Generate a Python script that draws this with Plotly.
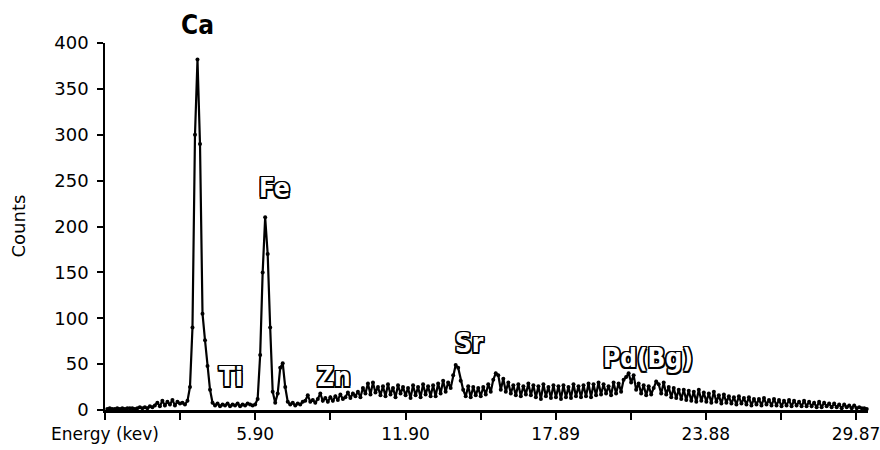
import numpy as np
import plotly.graph_objects as go

# Spectrum: channel energies (keV) start/step and counts
energy_start = 0.0
energy_step = 0.1
counts = [
    1, 2, 1, 1, 2, 1, 2, 1, 2, 2,          # 0.0 - 0.9
    2, 1, 2, 3, 2, 3, 2, 4, 3, 5,          # 1.0 - 1.9
    8, 4, 10, 5, 9, 6, 11, 5, 9, 7,        # 2.0 - 2.9
    8, 6, 10, 25, 90, 300, 382, 290, 105, 76,   # 3.0 - 3.9
    48, 22, 8, 5, 7, 4, 6, 5, 7, 4,        # 4.0 - 4.9
    6, 5, 7, 4, 6, 5, 7, 6, 5, 6,          # 5.0 - 5.9
    12, 60, 150, 210, 170, 90, 20, 8, 18, 46,   # 6.0 - 6.9
    51, 25, 9, 6, 8, 5, 7, 6, 9, 10,       # 7.0 - 7.9
    16, 9, 11, 8, 12, 18, 10, 13, 9, 14,   # 8.0 - 8.9
    10, 15, 11, 17, 12, 14, 19, 13, 18, 15,  # 9.0 - 9.9
    20, 14, 24, 18, 29, 17, 30, 19, 25, 16,  # 10.0 - 10.9
    26, 15, 28, 17, 24, 14, 27, 18, 25, 16,  # 11.0 - 11.9
    24, 13, 27, 16, 25, 14, 28, 17, 26, 15,  # 12.0 - 12.9
    27, 15, 29, 18, 32, 20, 30, 24, 38, 49,  # 13.0 - 13.9
    46, 32, 22, 15, 26, 14, 25, 16, 24, 15,  # 14.0 - 14.9
    25, 17, 28, 20, 33, 40, 38, 22, 34, 20,  # 15.0 - 15.9
    30, 18, 27, 16, 28, 15, 26, 17, 29, 16,  # 16.0 - 16.9
    27, 14, 26, 12, 28, 15, 25, 13, 27, 14,  # 17.0 - 17.9
    26, 12, 27, 14, 25, 13, 28, 15, 26, 14,  # 18.0 - 18.9
    27, 15, 29, 14, 28, 16, 30, 17, 28, 18,  # 19.0 - 19.9
    26, 16, 30, 18, 29, 20, 33, 36, 40, 30,  # 20.0 - 20.9
    38, 22, 29, 18, 27, 16, 26, 17, 24, 31,  # 21.0 - 21.9
    28, 18, 30, 17, 25, 14, 24, 13, 22, 12,  # 22.0 - 22.9
    22, 11, 21, 10, 20, 9, 22, 10, 19, 9,    # 23.0 - 23.9
    18, 8, 20, 9, 16, 7, 17, 8, 15, 7,       # 24.0 - 24.9
    14, 6, 15, 7, 13, 6, 14, 5, 12, 6,       # 25.0 - 25.9
    12, 5, 13, 6, 11, 5, 12, 5, 11, 4,       # 26.0 - 26.9
    10, 5, 11, 4, 10, 5, 9, 4, 10, 4,        # 27.0 - 27.9
    9, 4, 8, 3, 9, 3, 8, 4, 7, 3,            # 28.0 - 28.9
    7, 3, 6, 2, 6, 3, 5, 2, 5, 2,            # 29.0 - 29.9
    3, 2, 2, 1,                              # 30.0 - 30.3
]
energy = np.round(energy_start + energy_step * np.arange(len(counts)), 2)

# Axis ticks
x_tick_vals = [-0.09, 2.905, 5.90, 8.90, 11.90, 14.895, 17.89, 20.885, 23.88, 26.875, 29.87]
x_tick_text = ["Energy (kev)", "", "5.90", "", "11.90", "", "17.89", "", "23.88", "", "29.87"]
y_tick_vals = [0, 50, 100, 150, 200, 250, 300, 350, 400]

# Peak labels (positions in paper fractions of the plot area)
peak_labels = ["Ca", "Fe", "Ti", "Zn", "Sr", "Pd(Bg)"]
peak_px = [0.1206, 0.2215, 0.1651, 0.3001, 0.4771, 0.7117]
peak_py = [1.050, 0.605, 0.090, 0.090, 0.183, 0.142]

fig = go.Figure()
fig.add_trace(go.Scatter(
    x=energy, y=counts, mode="lines+markers",
    line=dict(color="black", width=2.2),
    marker=dict(color="black", size=4),
    showlegend=False, cliponaxis=False, hoverinfo="skip",
))

label_font = "DejaVu Sans Condensed, Liberation Sans Narrow, sans-serif"
outline = ("-1.5px -1.5px 0 #000, 1.5px -1.5px 0 #000, -1.5px 1.5px 0 #000, 1.5px 1.5px 0 #000, "
           "0 1.5px 0 #000, 0 -1.5px 0 #000, 1.5px 0 0 #000, -1.5px 0 0 #000")
annotations = []
for t, px, py in zip(peak_labels, peak_px, peak_py):
    if t == "Ca":
        f = dict(family=label_font, size=26, color="black", weight="bold")
    else:
        f = dict(family=label_font, size=26, color="white", weight="bold", shadow=outline)
    annotations.append(dict(
        x=px, y=py, xref="paper", yref="paper", text=t, showarrow=False,
        font=f, xanchor="center", yanchor="middle",
    ))
annotations.append(dict(
    x=-0.114, y=0.5, xref="paper", yref="paper", text="Counts", showarrow=False,
    textangle=-90, font=dict(family="DejaVu Sans, sans-serif", size=18, color="black"),
    xanchor="center", yanchor="middle",
))

fig.update_layout(
    width=880, height=450,
    margin=dict(l=105, r=12, t=43, b=40),
    paper_bgcolor="white", plot_bgcolor="white",
    font=dict(family="DejaVu Sans, sans-serif", size=18, color="black"),
    annotations=annotations,
    xaxis=dict(
        range=[-0.09, 30.35], showgrid=False, zeroline=False, automargin=False,
        showline=True, linecolor="black", linewidth=2.5,
        ticks="outside", ticklen=7, tickwidth=2, tickcolor="black",
        tickvals=x_tick_vals, ticktext=x_tick_text, ticklabeloverflow="allow",
        tickfont=dict(size=17),
    ),
    yaxis=dict(
        range=[0, 400], showgrid=False, zeroline=False, automargin=False,
        showline=True, linecolor="black", linewidth=1.5,
        ticks="outside", ticklen=6, tickwidth=1.5, tickcolor="black",
        tickvals=y_tick_vals, ticklabelstandoff=5,
    ),
)

# Remove the default page margin so the figure fills the 880x450 window exactly
fig.write_html("out.html", config={"displayModeBar": False},
               post_script="document.body.style.margin='0px';")
